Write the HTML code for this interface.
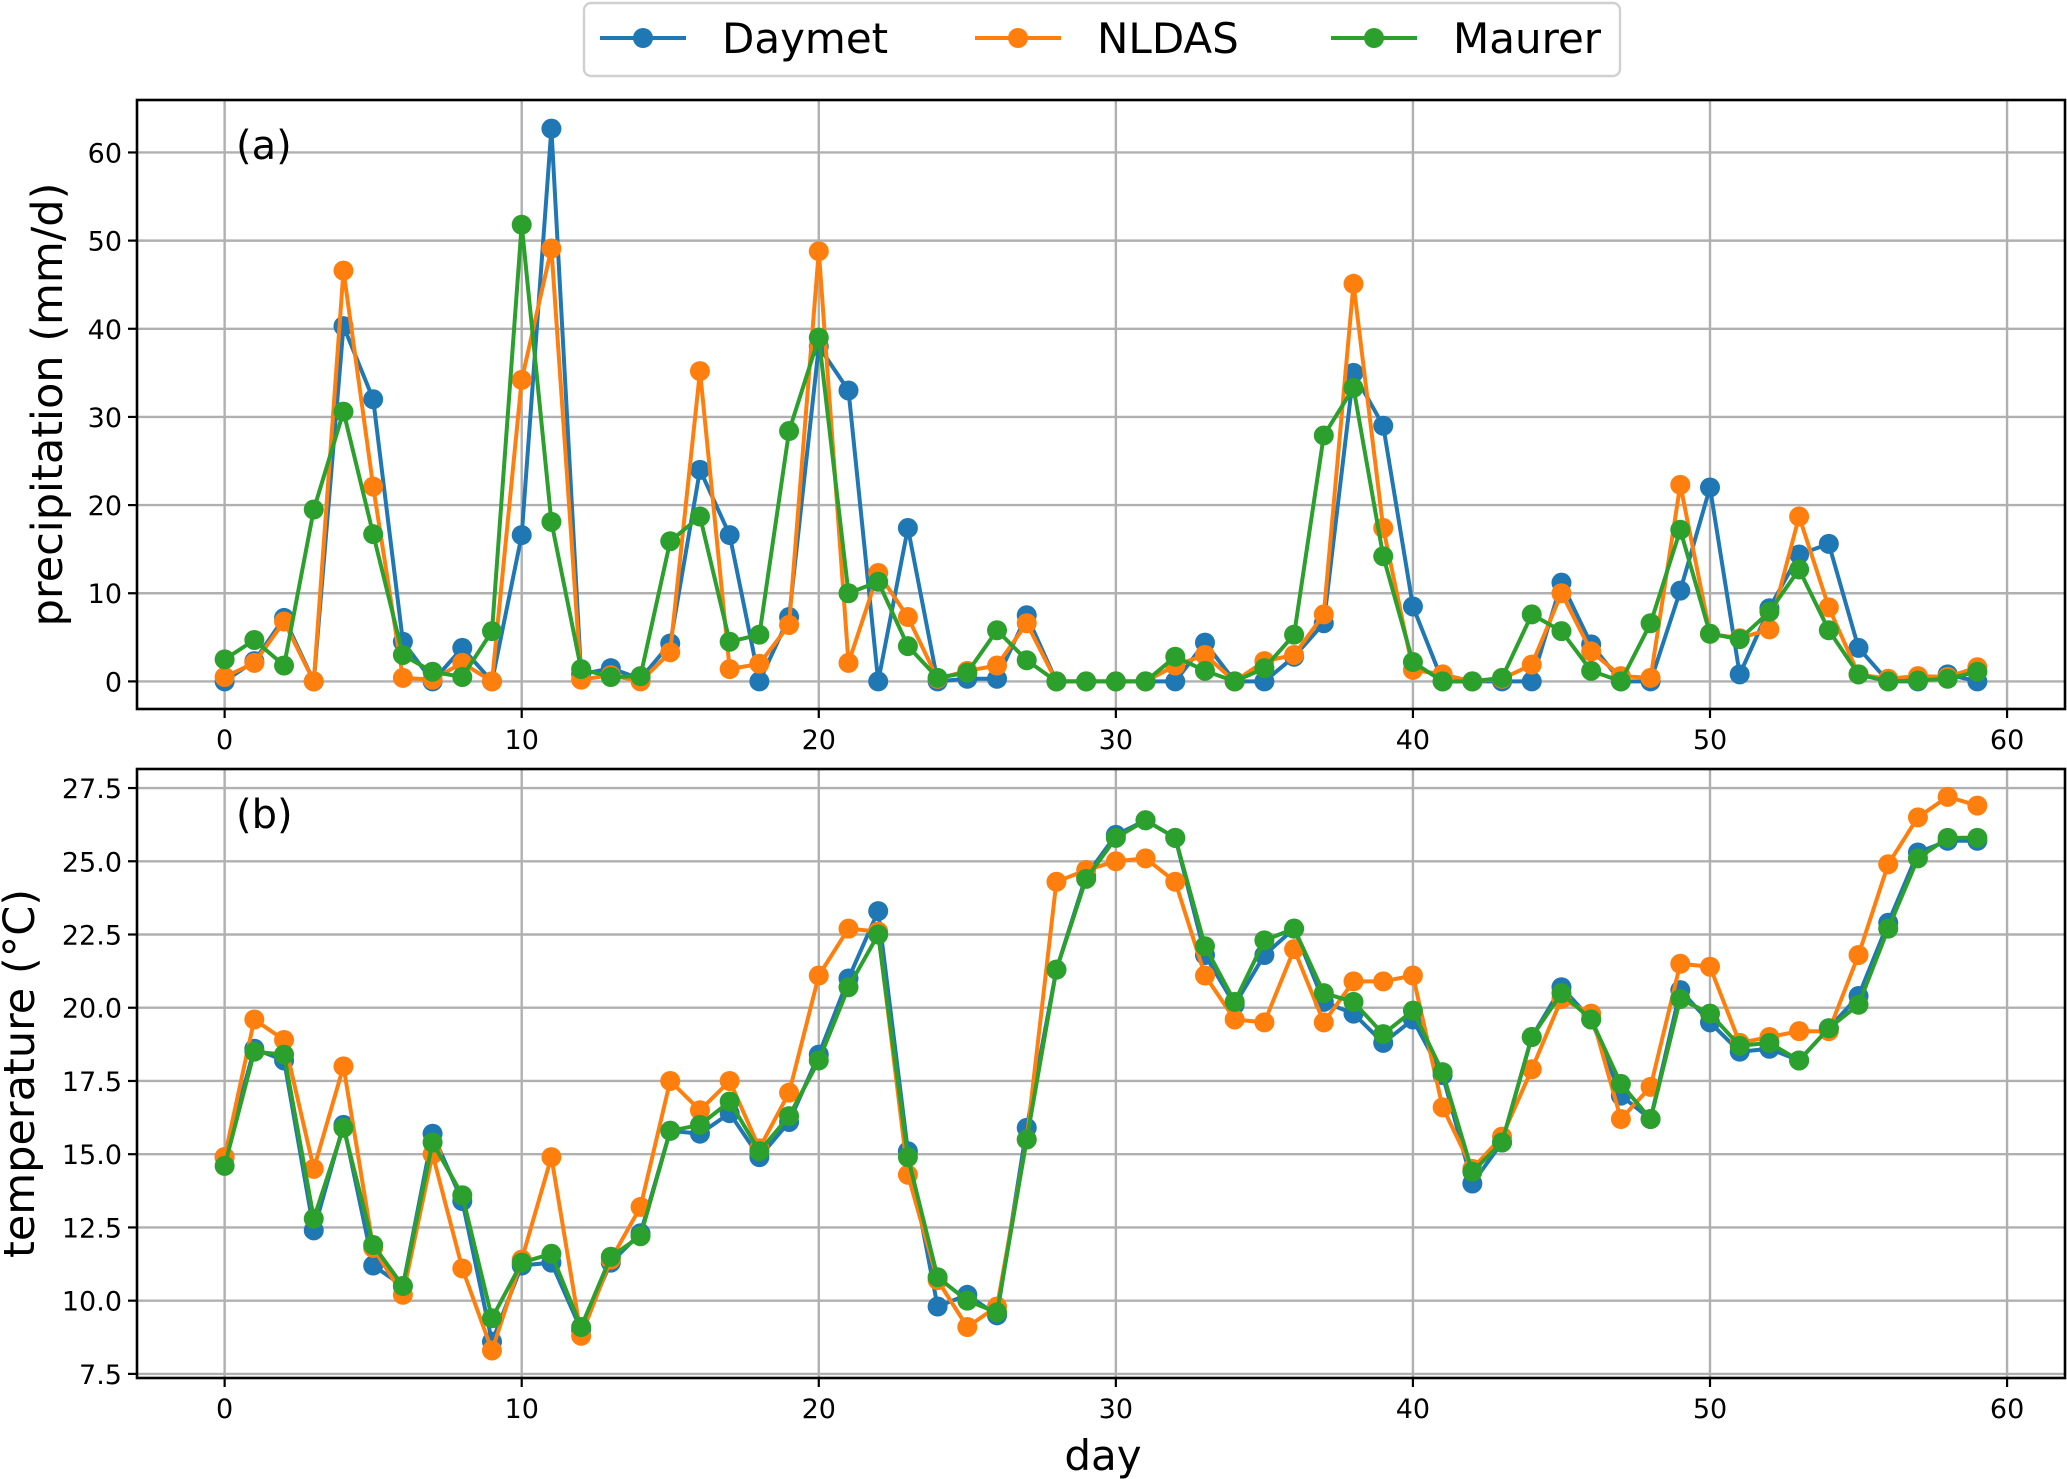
<!DOCTYPE html>
<html><head><meta charset="utf-8"><style>html,body{margin:0;padding:0;background:#fff}svg{display:block}</style></head>
<body>
<svg id="chart" width="2067" height="1479" xmlns="http://www.w3.org/2000/svg" font-family="DejaVu Sans, Liberation Sans, sans-serif"></svg>
<script>
const days = Array.from({length:60},(_,i)=>i);
const xTicks = [0,10,20,30,40,50,60];
const precipTicks = [0,10,20,30,40,50,60];
const tempTicks = [7.5,10.0,12.5,15.0,17.5,20.0,22.5,25.0,27.5];
const seriesNames = ["Daymet","NLDAS","Maurer"];
const precipDaymet = [0,2.3,7.2,0,40.3,32,4.5,0,3.8,0,16.6,62.7,0.8,1.5,0.3,4.3,24,16.6,0,7.3,38,33,0,17.4,0,0.3,0.3,7.5,0,0,0,0,0,4.4,0,0,2.8,6.6,35,29,8.5,0,0,0,0,11.2,4.2,0,0,10.3,22,0.8,8.3,14.4,15.6,3.8,0,0,0.8,0];
const precipNLDAS = [0.5,2.1,6.8,0,46.6,22.1,0.4,0.2,2.1,0,34.2,49.1,0.2,0.7,0,3.3,35.2,1.4,2,6.4,48.8,2.1,12.3,7.3,0.3,1.2,1.8,6.6,0,0,0,0,1.8,3,0,2.3,3,7.6,45.1,17.4,1.3,0.8,0,0.3,1.9,10,3.4,0.6,0.4,22.3,5.4,4.9,5.9,18.7,8.4,0.8,0.3,0.6,0.5,1.6];
const precipMaurer = [2.5,4.7,1.8,19.5,30.6,16.7,3,1.1,0.5,5.7,51.8,18.1,1.4,0.5,0.6,15.9,18.7,4.5,5.3,28.4,39,10,11.3,4,0.4,1,5.8,2.4,0,0,0,0,2.8,1.2,0,1.5,5.3,27.9,33.3,14.2,2.2,0,0,0.4,7.6,5.7,1.2,0,6.6,17.2,5.4,4.8,7.9,12.7,5.8,0.8,0,0.1,0.3,1.1];
const tempDaymet = [14.9,18.6,18.2,12.4,16,11.2,10.5,15.7,13.4,8.6,11.2,11.3,9,11.3,12.3,15.8,15.7,16.4,14.9,16.1,18.4,21,23.3,15.1,9.8,10.2,9.5,15.9,21.3,24.5,25.9,26.4,25.8,21.8,20.1,21.8,22.7,20.2,19.8,18.8,19.6,17.7,14,15.4,19,20.7,19.6,17,16.2,20.6,19.5,18.5,18.6,18.2,19.3,20.4,22.9,25.3,25.7,25.7];
const tempNLDAS = [14.9,19.6,18.9,14.5,18,11.8,10.2,15,11.1,8.3,11.4,14.9,8.8,11.4,13.2,17.5,16.5,17.5,15.2,17.1,21.1,22.7,22.6,14.3,10.7,9.1,9.8,15.5,24.3,24.7,25,25.1,24.3,21.1,19.6,19.5,22,19.5,20.9,20.9,21.1,16.6,14.5,15.6,17.9,20.3,19.8,16.2,17.3,21.5,21.4,18.8,19,19.2,19.2,21.8,24.9,26.5,27.2,26.9];
const tempMaurer = [14.6,18.5,18.4,12.8,15.9,11.9,10.5,15.4,13.6,9.4,11.3,11.6,9.1,11.5,12.2,15.8,16,16.8,15.1,16.3,18.2,20.7,22.5,14.9,10.8,10,9.6,15.5,21.3,24.4,25.8,26.4,25.8,22.1,20.2,22.3,22.7,20.5,20.2,19.1,19.9,17.8,14.4,15.4,19,20.5,19.6,17.4,16.2,20.3,19.8,18.7,18.8,18.2,19.3,20.1,22.7,25.1,25.8,25.8];

const colors = ["#1f77b4","#ff7f0e","#2ca02c"];
const NS = "http://www.w3.org/2000/svg";
const svg = document.getElementById('chart');
function mk(tag, attrs, parent){const e=document.createElementNS(NS,tag);for(const k in attrs)e.setAttribute(k,attrs[k]);(parent||svg).appendChild(e);return e;}

const L=137, R=2065;
const xMin=-2.95, xMax=61.95;
const xs = v => L + (v - xMin)/(xMax - xMin)*(R-L);

function panel(name, top, bottom, yMin, yMax, yTicks, fmt, seriesList, tag, ylabel, ylabelX){
  const g = mk('g',{});
  
  
  const ys = v => bottom - (v - yMin)/(yMax - yMin)*(bottom-top);
  const grid = mk('g',{},g);
  
  
  xTicks.forEach(t=>{ mk('line',{x1:xs(t),x2:xs(t),y1:top,y2:bottom,stroke:'#b0b0b0','stroke-width':2.4},grid); });
  yTicks.forEach(t=>{ mk('line',{x1:L,x2:R,y1:ys(t),y2:ys(t),stroke:'#b0b0b0','stroke-width':2.4},grid); });
  seriesList.forEach((vals,si)=>{
    const sg = mk('g',{},g);
    
    
    const pts = vals.map((v,i)=>xs(days[i]).toFixed(1)+','+ys(v).toFixed(1)).join(' ');
    const pl = mk('polyline',{points:pts,fill:'none',stroke:colors[si],'stroke-width':4,'stroke-linejoin':'round'},sg);
    
    
    vals.forEach((v,i)=>{
      const c = mk('circle',{cx:xs(days[i]),cy:ys(v),r:10,fill:colors[si]},sg);
      
      
    });
  });
  const fr = mk('rect',{x:L,y:top,width:R-L,height:bottom-top,fill:'none',stroke:'#000','stroke-width':2.6},g);
  
  
  xTicks.forEach(t=>{
    mk('line',{x1:xs(t),x2:xs(t),y1:bottom,y2:bottom+9,stroke:'#000','stroke-width':2.2},g);
    const tx = mk('text',{x:xs(t),y:bottom+40,'text-anchor':'middle','font-size':27,fill:'#000'},g);
    tx.textContent = t;
    
    
  });
  yTicks.forEach(t=>{
    mk('line',{x1:L-9,x2:L,y1:ys(t),y2:ys(t),stroke:'#000','stroke-width':2.2},g);
    const ty = mk('text',{x:L-15,y:ys(t)+10,'text-anchor':'end','font-size':27,fill:'#000'},g);
    ty.textContent = fmt(t);
    
    
  });
  const tg = mk('text',{x:236,y:top+59,'font-size':40,fill:'#000'},g);
  tg.textContent = tag;
  
  
  const cy=(top+bottom)/2;
  const yl = mk('text',{x:ylabelX,y:cy,'text-anchor':'middle','font-size':43,fill:'#000',transform:`rotate(-90 ${ylabelX} ${cy})`},g);
  yl.textContent = ylabel;
  
  
}
panel('precipitation-panel',100,709,-3.13,65.95,precipTicks,t=>String(t),[precipDaymet,precipNLDAS,precipMaurer],'(a)','precipitation (mm/d)',62);
panel('temperature-panel',769,1378,7.36,28.15,tempTicks,t=>t.toFixed(1),[tempDaymet,tempNLDAS,tempMaurer],'(b)','temperature (°C)',34);

const xl = mk('text',{x:(L+R)/2+2,y:1470,'text-anchor':'middle','font-size':42,fill:'#000'});
xl.textContent='day';



const lg = mk('g',{});


mk('rect',{x:584,y:3,width:1036,height:73,rx:7,fill:'#fff',stroke:'#d0d0d0','stroke-width':2.4},lg);
const lx=[600,975,1331];
seriesNames.forEach((n,i)=>{
  const e = mk('g',{},lg);
  
  
  mk('line',{x1:lx[i],x2:lx[i]+86,y1:38,y2:38,stroke:colors[i],'stroke-width':4},e);
  mk('circle',{cx:lx[i]+43,cy:38,r:10,fill:colors[i]},e);
  const t = mk('text',{x:lx[i]+122,y:53,'font-size':42,fill:'#000'},e);
  t.textContent=n;
});
</script>
</body></html>
